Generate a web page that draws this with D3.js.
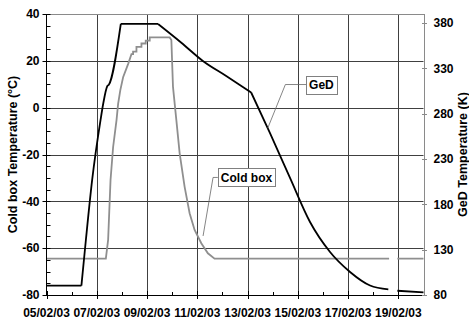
<!DOCTYPE html>
<html>
<head>
<meta charset="utf-8">
<script src="https://cdn.jsdelivr.net/npm/d3@7"></script>
<style>
  html, body { margin: 0; padding: 0; background: #fff; }
  svg { display: block; font-family: "Liberation Sans", Arial, sans-serif; }
</style>
</head>
<body>
<svg id="chart" width="469" height="327"></svg>
<script>
// ---------- data ----------
const coldBoxTimes = ["2003-02-05 00:00","2003-02-07 08:40","2003-02-07 10:51","2003-02-07 13:09","2003-02-07 15:37",
  "2003-02-07 18:52","2003-02-07 20:23","2003-02-07 22:29","2003-02-08 01:09","2003-02-08 05:54","2003-02-08 09:09",
  "2003-02-08 10:40","2003-02-08 10:40","2003-02-08 13:54","2003-02-08 13:54","2003-02-08 18:40","2003-02-08 18:40",
  "2003-02-08 22:45","2003-02-08 22:45","2003-02-09 02:34","2003-02-09 02:34","2003-02-09 21:37",
  "2003-02-09 23:14","2003-02-10 00:46","2003-02-10 04:00","2003-02-10 07:09","2003-02-10 11:54","2003-02-10 16:40",
  "2003-02-10 21:26","2003-02-11 03:49","2003-02-11 10:06","2003-02-11 16:29","2003-02-18 15:09","2003-02-18 19:00",
  "2003-02-18 23:02","2003-02-20 00:00"];
const coldBoxValues = [-64.5,-64.5,-56.5,-30.9,-16.8,-5.3,1.6,7.5,13.0,18.6,22.9,
  22.9,23.9,23.9,26.0,26.0,27.4,27.4,28.6,28.6,30.0,30.0,
  28.9,9.0,-5.3,-19.5,-33.8,-45.1,-52.2,-57.9,-62.2,-64.5,-64.5,null,-64.5,-64.5];

const gedTimes = ["2003-02-05 00:00","2003-02-06 09:20","2003-02-06 13:36","2003-02-06 19:36","2003-02-07 03:37",
  "2003-02-07 06:06","2003-02-07 10:06","2003-02-07 11:31","2003-02-07 22:57","2003-02-09 10:29",
  "2003-02-10 08:46","2003-02-11 05:20","2003-02-12 03:37","2003-02-13 03:26","2003-02-13 21:26","2003-02-14 16:32",
  "2003-02-15 11:38","2003-02-16 06:45","2003-02-17 01:51","2003-02-17 20:57","2003-02-18 14:24","2003-02-18 18:00",
  "2003-02-18 23:02","2003-02-20 00:00"];
const gedValues = [90.3,90.3,140.7,206.9,273.1,290.7,310.6,312.0,379.0,379.0,358.3,338.2,321.6,303.4,258.7,
  209.1,160.5,127.4,105.4,90.5,86.3,null,84.7,83.0];
// indices where the GeD trace has sharp corners
const gedCorners = [1, 8, 9, 13];

const xDomain = ["2003-02-05 00:00", "2003-02-20 00:00"];
const leftDomain = [-80, 40];
const leftTicks = [-80, -60, -40, -20, 0, 20, 40];
const rightDomain = [80, 390];
const rightTicks = [80, 130, 180, 230, 280, 330, 380];
const dateTickLabels = ["05/02/03","07/02/03","09/02/03","11/02/03","13/02/03","15/02/03","17/02/03","19/02/03"];

const leftTitle = "Cold box Temperature (°C)";
const rightTitle = "GeD Temperature (K)";
// annotations: label, box anchor (time, value), elbow time, pointer (time, value), axis
const annotations = [
  { text: "GeD", axis: "right", boxT: "2003-02-15 07:51", boxV: 312.2, elbowT: "2003-02-14 12:06", tipT: "2003-02-13 19:15", tipV: 264 },
  { text: "Cold box", axis: "left", boxT: "2003-02-11 19:37", boxV: -29.8, elbowT: "2003-02-11 15:03", tipT: "2003-02-11 05:31", tipV: -54.8 }
];

// ---------- layout ----------
const parse = d3.timeParse("%Y-%m-%d %H:%M");
const L = 46.5, R = 423.5, T = 14, B = 295;
const svg = d3.select("#chart");

const x = d3.scaleTime().domain(xDomain.map(parse)).range([L, R]);
const yL = d3.scaleLinear().domain(leftDomain).range([B, T]);
const yR = d3.scaleLinear().domain(rightDomain).range([B, T]);

const font = "bold 12px 'Liberation Sans', Arial, sans-serif";
const titleFont = "bold 12.5px 'Liberation Sans', Arial, sans-serif";
const gridColor = "#404040";

// gridlines horizontal
const gGrid = svg.append("g");
gGrid.selectAll("line.h").data(leftTicks.filter(v => v > leftDomain[0] && v < leftDomain[1]))
  .join("line")
  .attr("x1", L).attr("x2", R)
  .attr("y1", d => Math.round(yL(d)) + 0.5).attr("y2", d => Math.round(yL(d)) + 0.5)
  .attr("stroke", gridColor).attr("stroke-width", 1);
// vertical gridlines every 2 days
const allMajor = d3.timeDay.every(2).range(parse(xDomain[0]), parse(xDomain[1]));
gGrid.selectAll("line.v").data(allMajor.filter(d => x(d) > L + 1)).join("line")
  .attr("x1", d => Math.round(x(d)) + 0.5).attr("x2", d => Math.round(x(d)) + 0.5)
  .attr("y1", T).attr("y2", B)
  .attr("stroke", gridColor).attr("stroke-width", 1);
// plot border top/right (gray)
svg.append("line").attr("x1", L).attr("x2", Math.round(R) + 0.5).attr("y1", T + 0.5).attr("y2", T + 0.5).attr("stroke", "#8a8a8a");
svg.append("line").attr("x1", Math.round(R) + 0.5).attr("x2", Math.round(R) + 0.5).attr("y1", T).attr("y2", B).attr("stroke", "#8a8a8a");

// ---------- series ----------
const coldData = coldBoxTimes.map((t, i) => ({ t: parse(t), v: coldBoxValues[i] }));
const gedData = gedTimes.map((t, i) => ({ t: parse(t), v: gedValues[i] }));

const coldLine = d3.line().defined(d => d.v !== null).x(d => x(d.t)).y(d => yL(d.v)).curve(d3.curveLinear);
const gedLine = d3.line().defined(d => d.v !== null).x(d => x(d.t)).y(d => yR(d.v)).curve(d3.curveMonotoneX);

svg.append("path").datum(coldData).attr("d", coldLine)
  .attr("fill", "none").attr("stroke", "#8f8f8f").attr("stroke-width", 1.8).attr("stroke-linejoin", "miter");

// GeD: split into pieces at sharp corners so the smooth curve keeps its kinks
const bounds = [0, ...gedCorners, gedData.length - 1];
let gedPath = "";
for (let i = 0; i < bounds.length - 1; i++) {
  gedPath += gedLine(gedData.slice(bounds[i], bounds[i + 1] + 1));
}
svg.append("path").attr("d", gedPath)
  .attr("fill", "none").attr("stroke", "#000").attr("stroke-width", 1.8).attr("stroke-linejoin", "round");

// ---------- axes ----------
const ax = svg.append("g");
ax.append("line").attr("x1", L).attr("x2", L).attr("y1", T).attr("y2", B).attr("stroke", "#000");
ax.selectAll("line.maj").data(leftTicks).join("line")
  .attr("x1", L - 4).attr("x2", L + 4)
  .attr("y1", d => Math.round(yL(d)) + 0.5).attr("y2", d => Math.round(yL(d)) + 0.5).attr("stroke", "#000");
const leftMinor = d3.range(leftDomain[0], leftDomain[1] + 0.1, 5).filter(v => v % 20 !== 0);
ax.selectAll("line.min").data(leftMinor).join("line")
  .attr("x1", L).attr("x2", L + 4)
  .attr("y1", d => Math.round(yL(d)) + 0.5).attr("y2", d => Math.round(yL(d)) + 0.5).attr("stroke", "#000");
ax.selectAll("text.l").data(leftTicks).join("text")
  .attr("x", L - 7).attr("y", d => yL(d)).attr("dy", "0.35em")
  .attr("text-anchor", "end").style("font", font).text(d => d);

// bottom axis
ax.append("line").attr("x1", L).attr("x2", R).attr("y1", B + 0.5).attr("y2", B + 0.5).attr("stroke", "#000");
ax.selectAll("line.bmaj").data(allMajor).join("line")
  .attr("x1", d => Math.round(x(d)) + 0.5).attr("x2", d => Math.round(x(d)) + 0.5)
  .attr("y1", B - 4).attr("y2", B + 4).attr("stroke", "#000");
const allDays = d3.timeDay.range(parse(xDomain[0]), parse(xDomain[1]));
ax.selectAll("line.bmin").data(allDays.filter((d, i) => i % 2 === 1)).join("line")
  .attr("x1", d => Math.round(x(d)) + 0.5).attr("x2", d => Math.round(x(d)) + 0.5)
  .attr("y1", B - 3).attr("y2", B).attr("stroke", "#000");
ax.selectAll("text.b").data(allMajor).join("text")
  .attr("x", d => x(d)).attr("y", B + 22)
  .attr("text-anchor", "middle").style("font", font).text((d, i) => dateTickLabels[i]);

// right axis
ax.selectAll("line.r").data(rightTicks).join("line")
  .attr("x1", Math.round(R) - 2).attr("x2", Math.round(R) + 3)
  .attr("y1", d => Math.round(yR(d)) + 0.5).attr("y2", d => Math.round(yR(d)) + 0.5).attr("stroke", "#8a8a8a");
ax.selectAll("text.r").data(rightTicks).join("text")
  .attr("x", R + 10).attr("y", d => yR(d)).attr("dy", "0.35em")
  .attr("text-anchor", "start").style("font", font).text(d => d);

// axis titles
svg.append("text").attr("transform", `translate(17,${(T + B) / 2}) rotate(-90)`)
  .attr("text-anchor", "middle").style("font", titleFont).text(leftTitle);
svg.append("text").attr("transform", `translate(467,${(T + B) / 2}) rotate(-90)`)
  .attr("text-anchor", "middle").style("font", titleFont).text(rightTitle);

// ---------- annotations ----------
annotations.forEach(a => {
  const ys = a.axis === "left" ? yL : yR;
  const bx = x(parse(a.boxT)), by = ys(a.boxV);
  const ex = x(parse(a.elbowT));
  const tx = x(parse(a.tipT)), ty = ys(a.tipV);
  svg.append("path").attr("d", `M${bx},${by}L${ex},${by}L${tx},${ty}`)
    .attr("fill", "none").attr("stroke", "#666").attr("stroke-width", 0.8);
  const g = svg.append("g");
  const txt = g.append("text").attr("x", bx + 3).attr("y", by).attr("dy", "0.35em")
    .style("font", font).text(a.text);
  const w = txt.node().getComputedTextLength();
  g.insert("rect", "text").attr("x", Math.round(bx) + 0.5).attr("y", Math.round(by - 9) + 0.5)
    .attr("width", Math.round(w + 6)).attr("height", 18)
    .attr("fill", "#fff").attr("stroke", "#808080").attr("stroke-width", 1);
});
</script>
</body>
</html>
